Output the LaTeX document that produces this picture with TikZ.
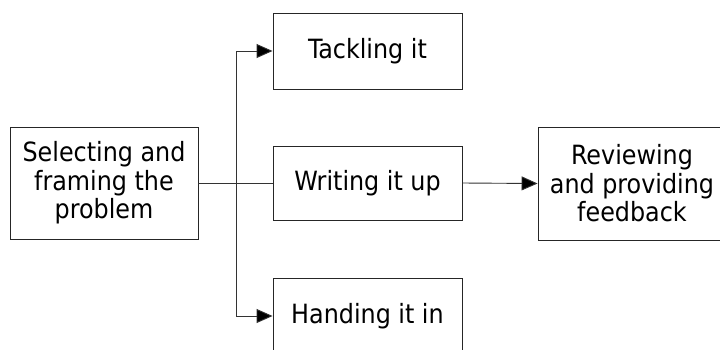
\documentclass[tikz,border=0pt]{standalone}
\usepackage{fontspec}
\setmainfont{DejaVu Sans Condensed}
\usetikzlibrary{arrows.meta}
\begin{document}
\begin{tikzpicture}[x=1pt,y=-1pt,
  stagebox/.style={draw=black!85, line width=0.9pt, align=center, inner sep=0pt,
    font=\fontsize{26.5}{28.5}\selectfont},
  link/.style={draw=black!80, line width=0.9pt},
  tip/.style={-{Triangle[length=16pt,width=14pt,fill=black]}}]
\useasboundingbox (0,0) rectangle (720,349);
\begin{scope}
\clip (0,0) rectangle (720,349);
\node[stagebox, minimum width=188pt, minimum height=112pt] (select) at (104,183)
  {Selecting and\\framing the\\problem};
\node[stagebox, minimum width=189pt, minimum height=76pt] (tackle) at (367.5,51) {Tackling it};
\node[stagebox, minimum width=189pt, minimum height=74pt] (write) at (367.5,183) {Writing it up};
\node[stagebox, minimum width=189pt, minimum height=76pt] (hand) at (367.5,316) {Handing it in};
\node[stagebox, minimum width=188pt, minimum height=113pt] (review) at (632,183.5)
  {Reviewing\\and providing\\feedback};
\coordinate (fork) at (236,183);
\draw[link] (select.east) -- (write.west);
\draw[link, tip] (fork) |- (tackle.west);
\draw[link, tip] (fork) |- (hand.west);
\draw[link, tip] (write.east) -- (review.west);
\end{scope}
\end{tikzpicture}
\end{document}
